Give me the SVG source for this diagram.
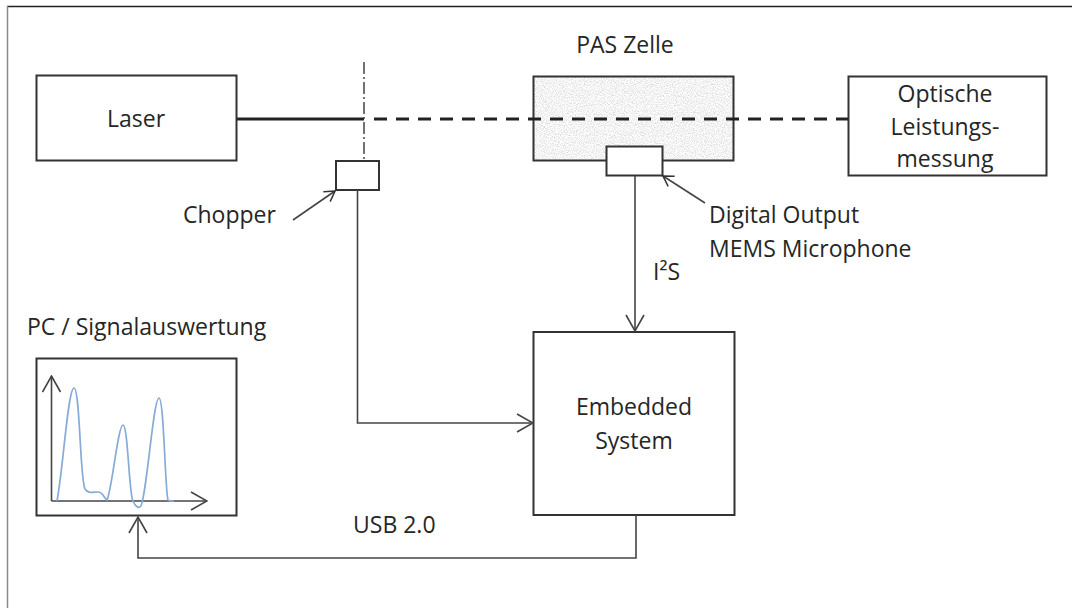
<svg xmlns="http://www.w3.org/2000/svg" width="1072" height="608" viewBox="0 0 1072 608">
  <style>
    .box { fill: #ffffff; stroke: #333333; stroke-width: 2; }
    .lbl { font-family: "Open Sans", "Liberation Sans", sans-serif; font-size: 23px; fill: #262626; }
    .mid { text-anchor: middle; }
    .wire { fill: none; stroke: #444444; stroke-width: 1.6; }
    .beam { fill: none; stroke: #222222; stroke-width: 3; }
  </style>
  <defs>
    <marker id="arrowOpen" viewBox="0 0 18 20" refX="17" refY="10" markerWidth="18" markerHeight="20" markerUnits="userSpaceOnUse" orient="auto">
      <path d="M1,1 L17,10 L1,19" fill="none" stroke="#444444" stroke-width="1.6"/>
    </marker>
    <marker id="arrowSmall" viewBox="0 0 12 14" refX="11" refY="7" markerWidth="12" markerHeight="14" markerUnits="userSpaceOnUse" orient="auto">
      <path d="M1,1 L11,7 L1,13" fill="none" stroke="#333333" stroke-width="1.5"/>
    </marker>
    <filter id="speckle" filterUnits="userSpaceOnUse" x="533" y="76" width="201" height="84">
      <feTurbulence type="fractalNoise" baseFrequency="0.9" numOctaves="2" seed="7" result="noise"/>
      <feColorMatrix in="noise" type="matrix" values="0.75 0 0 0 0.53  0.75 0 0 0 0.53  0.75 0 0 0 0.53  0 0 0 0 1" result="grey"/>
      <feComposite in="grey" in2="SourceGraphic" operator="in"/>
    </filter>
  </defs>

  <!-- page -->
  <rect x="0" y="0" width="1072" height="608" fill="#ffffff"/>
  <line x1="7" y1="6.5" x2="1072" y2="6.5" stroke="#222222" stroke-width="1.5"/>
  <line x1="7.5" y1="6" x2="7.5" y2="608" stroke="#8a8a8a" stroke-width="1.5"/>

  <!-- optical path -->
  <g id="beam">
    <path class="beam" d="M236,119 H364"/>
    <path d="M364,62 V160" fill="none" stroke="#444444" stroke-width="1.5" stroke-dasharray="12 3 2 3"/>
  </g>

  <g id="laser">
    <rect class="box" x="36.5" y="75.5" width="200" height="85"/>
    <text class="lbl mid" x="136" y="127">Laser</text>
  </g>

  <g id="pas-zelle">
    <rect x="533.5" y="76.5" width="200" height="84" fill="#e4e4e4" filter="url(#speckle)"/>
    <rect x="533.5" y="76.5" width="200" height="84" fill="none" stroke="#333333" stroke-width="2"/>
    <text class="lbl mid" x="625" y="53">PAS Zelle</text>
  </g>

  <!-- beam continues through the cell -->
  <path class="beam" d="M374,119 H848" stroke-dasharray="13 9"/>

  <g id="optische-leistungsmessung">
    <rect class="box" x="848.5" y="76.5" width="198" height="99"/>
    <text class="lbl mid" x="945" y="102">Optische</text>
    <text class="lbl mid" x="945" y="135">Leistungs-</text>
    <text class="lbl mid" x="945" y="167">messung</text>
  </g>

  <g id="chopper">
    <rect class="box" x="336" y="161" width="43" height="29"/>
    <text class="lbl" x="183" y="223">Chopper</text>
  </g>

  <g id="microphone">
    <rect class="box" x="606.5" y="146.5" width="56" height="29"/>
    <text class="lbl" x="709" y="223">Digital Output</text>
    <text class="lbl" x="709" y="257">MEMS Microphone</text>
  </g>

  <g id="embedded-system">
    <rect class="box" x="533.5" y="332" width="201" height="183"/>
    <text class="lbl mid" x="634" y="415">Embedded</text>
    <text class="lbl mid" x="634" y="449">System</text>
  </g>

  <g id="pc">
    <text class="lbl" x="27" y="335">PC / Signalauswertung</text>
    <rect class="box" x="36.5" y="358.5" width="200" height="157"/>
    <path class="wire" d="M51.5,501 V376" marker-end="url(#arrowOpen)" stroke="#333333"/>
    <path class="wire" d="M51.5,501 H207" marker-end="url(#arrowOpen)" stroke="#333333"/>
    <path d="M57,501 C63,470 68,388 74,388 C80,388 80,480 85,489 C88,494 93,492 98,492 C103,492 104,498 107,500 C112,490 118,425 123,425 C128,425 129,495 133,501 C135,506 138,508 140,507 C146,505 153,398 159,398 C164,398 165,490 168,500 C170,502 172,501 174,501" fill="none" stroke="#86abd9" stroke-width="1.7"/>
  </g>

  <g id="connectors">
    <path class="wire" d="M357.5,190 V423 H533" marker-end="url(#arrowOpen)"/>
    <path class="wire" d="M635,176 V331" marker-end="url(#arrowOpen)"/>
    <text class="lbl" x="653" y="280">I²S</text>
    <path class="wire" d="M636,515 V558 H138 V517" marker-end="url(#arrowOpen)"/>
    <text class="lbl" x="353" y="533">USB 2.0</text>
    <path class="wire" d="M293,220 L335,191" marker-end="url(#arrowSmall)" stroke="#333333"/>
    <path class="wire" d="M705,203 L663,176" marker-end="url(#arrowSmall)" stroke="#333333"/>
  </g>
</svg>
